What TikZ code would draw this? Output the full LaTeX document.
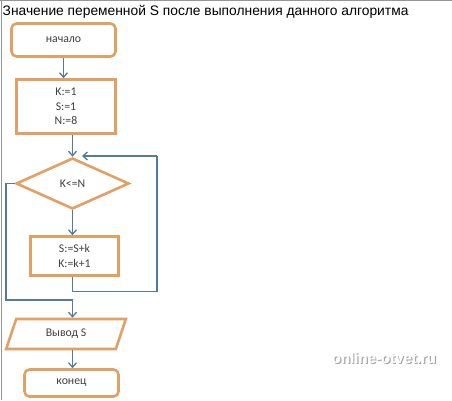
\documentclass[tikz,border=0pt]{standalone}
\usepackage{fontspec}
\setmainfont{Liberation Sans}
\newfontfamily\boxfont{Carlito}
\usetikzlibrary{shapes.geometric,arrows.meta,calc}
\definecolor{boxorange}{RGB}{226,160,100}
\definecolor{linkblue}{RGB}{82,124,158}
\definecolor{framegray}{RGB}{150,150,150}
\tikzset{
  blockbase/.style={draw=boxorange, line width=2.6pt, fill=white, inner sep=0pt,
    font=\boxfont\fontsize{11.8}{14.5}\selectfont, text=black!75, align=center},
  roundbox/.style={blockbase, rectangle, rounded corners=5pt},
  plainbox/.style={blockbase, rectangle},
  decisionbox/.style={blockbase, diamond, aspect=2.2},
  iobox/.style={blockbase, trapezium, trapezium left angle=67, trapezium right angle=113, trapezium stretches=true},
  link/.style={draw=linkblue, line width=1.3pt},
  linkarrow/.style={link, -{Straight Barb[length=4.5pt,width=8pt,line width=1.3pt]}},
  frameline/.style={draw=framegray, line width=1.2pt}
}
\begin{document}
\begin{tikzpicture}[x=1pt,y=-1pt]
\useasboundingbox (0,0) rectangle (452,400);
\fill[white] (0,0) rectangle (452,400);
\draw[frameline] (0,0.6) -- (452,0.6);
\draw[frameline] (1.8,0) -- (1.8,400);
\node[anchor=west, font=\fontsize{13.8}{15}\selectfont, inner sep=0pt] (title) at (2.5,12) {Значение переменной S после выполнения данного алгоритма};

\node[roundbox, minimum width=104pt, minimum height=33pt] (start) at (63.5,40) {начало};
\node[plainbox, minimum width=99pt, minimum height=54pt] (init) at (66,106.5) {K:=1\\S:=1\\N:=8};
\node[decisionbox, minimum width=113pt, minimum height=51pt] (cond) at (72.5,183.5) {K<=N};
\node[plainbox, minimum width=88pt, minimum height=39pt] (body) at (74.5,256) {S:=S+k\\K:=k+1};
\node[iobox, minimum width=120pt, minimum height=30pt] (out) at (66,334) {Вывод S};
\node[roundbox, minimum width=94pt, minimum height=27pt] (finish) at (71.5,383) {конец};

\coordinate (loopR) at (157,156);
\coordinate (loopEnd) at (82,156);
\coordinate (exitL) at (6,300);

\draw[linkarrow] (start.south) -- (start.south |- init.north);
\draw[linkarrow] (cond.north |- init.south) -- (cond.north);
\draw[linkarrow] (cond.south) -- (cond.south |- body.north);
\draw[link] (cond.south |- body.south) -- ++(0,15) -| (loopR);
\draw[linkarrow] (loopR) -- (loopEnd);
\draw[link] (cond.west) -| (exitL) -- (exitL -| cond.south);
\draw[linkarrow] (exitL -| cond.south) -- (cond.south |- out.north);
\draw[linkarrow] (cond.south |- out.south) -- (cond.south |- finish.north);

\node[font=\bfseries\fontsize{15}{17}\selectfont, text=black!35, inner sep=0pt] (wmshadow) at (385.2,359.2) {online-otvet.ru};
\node[font=\bfseries\fontsize{15}{17}\selectfont, text=white, inner sep=0pt] (wm) at (384,358) {online-otvet.ru};
\end{tikzpicture}
\end{document}
